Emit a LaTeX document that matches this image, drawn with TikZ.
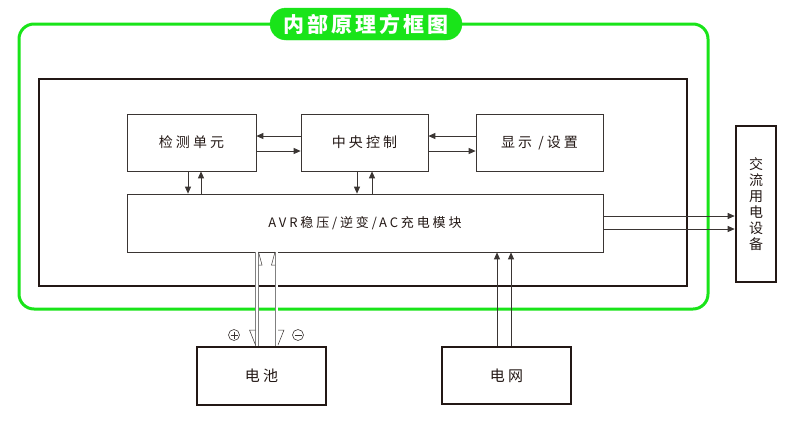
\documentclass[tikz,border=0pt]{standalone}
\usepackage{fontspec}
\usetikzlibrary{arrows.meta}
\newfontfamily\cjk{Noto Sans CJK SC}[LetterSpace=22]
\newfontfamily\cjkt{Noto Sans CJK SC}[LetterSpace=14]
\definecolor{dk}{HTML}{231815}
\definecolor{gr}{RGB}{25,228,25}
\definecolor{ln}{HTML}{3A3533}
\begin{document}
\begin{tikzpicture}[x=1pt,y=-1pt,
  sbox/.style={draw=ln, line width=0.7pt, minimum width=#1, minimum height=57pt, inner sep=0pt, font=\cjk\fontsize{14}{16}\selectfont, text=dk},
  tbox/.style={draw=dk, line width=2.6pt, inner sep=0pt, font=\cjk\fontsize{15}{17}\selectfont, text=dk},
  arr/.style={draw=ln, line width=0.8pt, -{Triangle[length=7pt,width=6pt]}},
  dbl/.style={draw=gray, line width=0.6pt, double=white, double distance=2pt},
  half/.style={draw=ln, line width=0.5pt}
]
\useasboundingbox (0,0) rectangle (787,429);
% green frame
\draw[gr, line width=3pt, rounded corners=15pt] (19,24) rectangle (708,309);
\node[fill=gr, draw=gr, rounded corners=16pt, minimum width=192pt, minimum height=32pt, inner sep=0pt, text=white, font=\cjkt\bfseries\fontsize{21}{23}\selectfont] (title) at (366,24) {内部原理方框图};
% inner black frame
\node[draw=dk, line width=2.6pt, minimum width=648pt, minimum height=207pt, inner sep=0pt] (inner) at (363,182.5) {};
% boxes
\node[sbox=129pt] (det) at (191.5,142.5) {检测单元};
\node[sbox=127pt] (ctl) at (364.5,142.5) {中央控制};
\node[sbox=127pt] (disp) at (539.5,142.5) {显示 /设置};
\node[sbox=476pt, minimum height=58pt, font=\cjk\fontsize{13}{15}\selectfont] (avr) at (365,223) {AVR稳压/逆变/AC充电模块};
\node[tbox, minimum width=40pt, minimum height=156pt, align=center, font=\cjk\fontsize{14}{16}\selectfont] (load) at (756,204) {交\\流\\用\\电\\设\\备};
\node[tbox, minimum width=129pt, minimum height=58pt] (bat) at (261.5,376) {电池};
\node[tbox, minimum width=129pt, minimum height=57pt] (grid) at (506.5,375.5) {电网};
% horizontal arrows
\draw[arr] (ctl.west |- 0,136) -- (det.east |- 0,136);
\draw[arr] (det.east |- 0,151) -- (ctl.west |- 0,151);
\draw[arr] (disp.west |- 0,136) -- (ctl.east |- 0,136);
\draw[arr] (ctl.east |- 0,151) -- (disp.west |- 0,151);
% vertical arrows
\draw[arr] (det.south -| 188,0) -- (avr.north -| 188,0);
\draw[arr] (avr.north -| 201,0) -- (det.south -| 201,0);
\draw[arr] (ctl.south -| 357,0) -- (avr.north -| 357,0);
\draw[arr] (avr.north -| 372,0) -- (ctl.south -| 372,0);
% to load
\draw[arr] (avr.east |- 0,216) -- (load.west |- 0,216);
\draw[arr] (avr.east |- 0,229) -- (load.west |- 0,229);
% grid
\draw[arr] (grid.north -| 497,0) -- (avr.south -| 497,0);
\draw[arr] (grid.north -| 511,0) -- (avr.south -| 511,0);
% battery
\draw[dbl] (bat.north -| 257,0) -- (avr.south -| 257,0);
\draw[dbl] (bat.north -| 276.5,0) -- (avr.south -| 276.5,0);
\draw[half] (258.5,252) -- (262,265) -- (258.5,265);
\draw[half] (275,252) -- (271.5,265) -- (275,265);
\draw[half] (255.5,330) -- (249.5,330) -- (255.5,345);
\draw[half] (278,330) -- (284,330) -- (278,345);
% plus / minus
\draw[ln, line width=0.6pt] (234,335) circle (5.5pt);
\draw[ln, line width=0.6pt] (230.5,335) -- (237.5,335) (234,331.5) -- (234,338.5);
\draw[ln, line width=0.6pt] (298,335) circle (5.5pt);
\draw[ln, line width=0.6pt] (294.5,335) -- (301.5,335);
\end{tikzpicture}
\end{document}
